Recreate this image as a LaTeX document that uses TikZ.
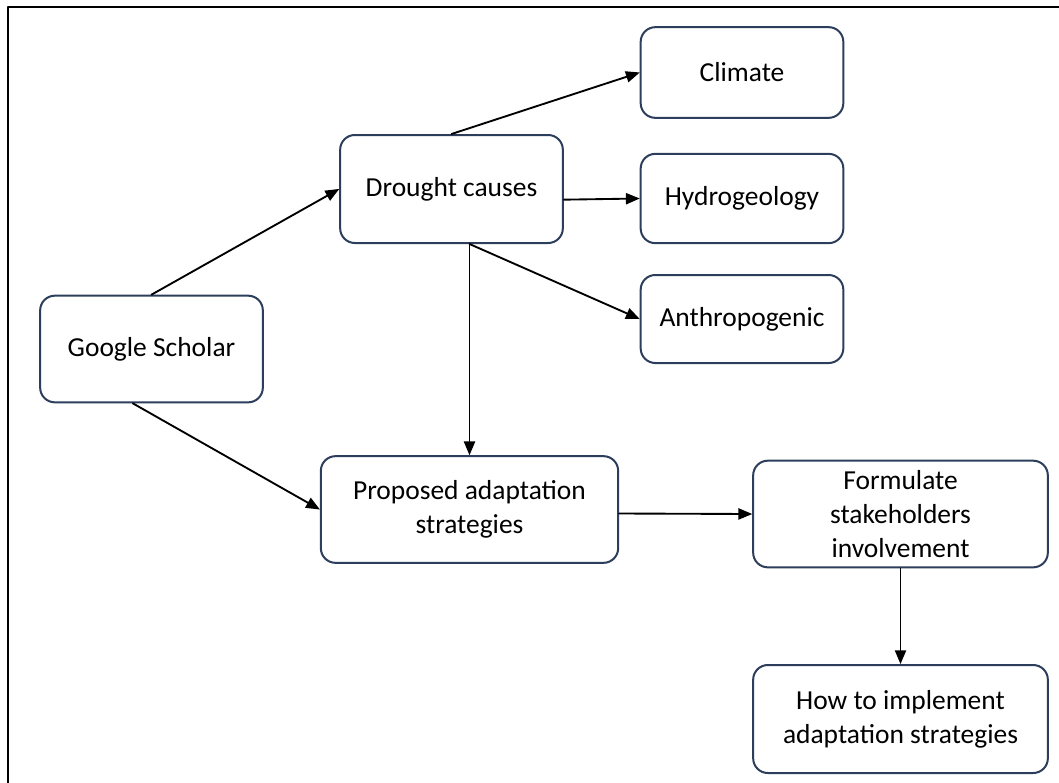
\documentclass[tikz,border=0pt]{standalone}
\usepackage{fontspec}
\setmainfont{Carlito}
\usetikzlibrary{arrows}

\definecolor{boxline}{RGB}{44,62,92}

\begin{document}
\begin{tikzpicture}[line cap=round,line join=round,>=triangle 45,x=0.75pt,y=-0.75pt]
\useasboundingbox (0,0) rectangle (1059,782);
\clip (0,0) rectangle (1059,782);
\draw [line width=1.8pt] (8,7) rectangle (1075,800);

\tikzset{box/.style={draw=boxline, line width=1.5pt, rounded corners=11pt, fill=white,
    align=center, inner sep=2pt, font=\fontsize{20.6}{25.5}\selectfont},
  link/.style={->, line width=1.4pt}}

\node[box, minimum width=167pt, minimum height=80pt] (scholar) at (151.5,349) {Google Scholar};
\node[box, minimum width=167pt, minimum height=81pt] (drought) at (451.5,189) {Drought causes};
\node[box, minimum width=152pt, minimum height=68pt] (climate) at (742,72.5) {Climate};
\node[box, minimum width=152pt, minimum height=67pt] (hydro) at (742,198.5) {Hydrogeology};
\node[box, minimum width=152pt, minimum height=66pt] (anthro) at (742,319) {Anthropogenic};
\node[box, minimum width=223pt, minimum height=80pt] (proposed) at (469.5,509.5) {Proposed adaptation\\strategies};
\node[box, minimum width=221pt, minimum height=80pt] (formulate) at (900.5,514) {Formulate\\stakeholders\\involvement};
\node[box, minimum width=221pt, minimum height=81pt] (implement) at (900.5,719) {How to implement\\adaptation strategies};

\draw [link] (scholar.north) -- (drought.west);
\draw [link] ([xshift=-14pt]scholar.south) -- (proposed.west);
\draw [link] (drought.north) -- (climate.west);
\draw [link] ([yshift=-8pt]drought.east) -- (hydro.west);
\draw [link] (drought.south -| proposed.north) -- (anthro.west);
\draw [link] (drought.south -| proposed.north) -- (proposed.north);
\draw [link] ([yshift=-3pt]proposed.east) -- (formulate.west);
\draw [link] (formulate.south) -- (implement.north);
\end{tikzpicture}
\end{document}
